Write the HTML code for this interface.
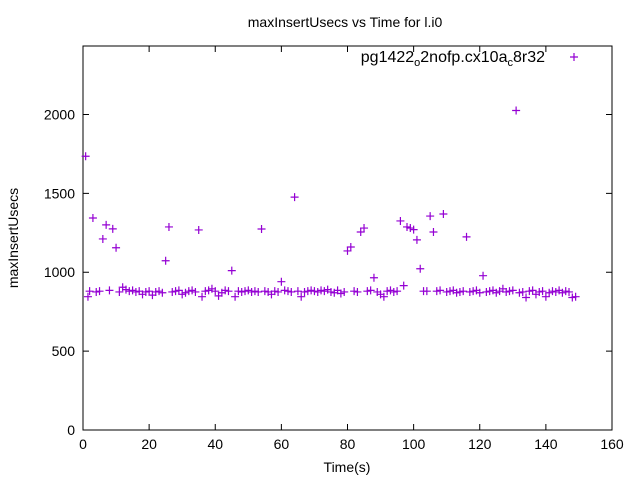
<!DOCTYPE html>
<html><head><meta charset="utf-8"><style>
body{margin:0;background:#fff;}
svg text{font-family:"Liberation Sans",sans-serif;font-size:14px;fill:#000;}
</style></head><body>
<svg id="chart" width="640" height="480" viewBox="0 0 640 480" xmlns="http://www.w3.org/2000/svg">
<text x="345" y="27" text-anchor="middle" style="font-size:14px">maxInsertUsecs vs Time for l.i0</text>
<text x="347" y="472" text-anchor="middle">Time(s)</text>
<text transform="translate(18,238) rotate(-90)" text-anchor="middle">maxInsertUsecs</text>
<g id="axes"></g>
<g id="points"></g>
<g>
<text x="545" y="62" text-anchor="end" style="font-size:16px">pg1422<tspan style="font-size:11px" dy="4">o</tspan><tspan dy="-4">2nofp.cx10a</tspan><tspan style="font-size:11px" dy="4">c</tspan><tspan dy="-4">8r32</tspan></text>
<path d="M570,57h8M574,53v8" stroke="#9400d3" stroke-width="1.2"/>
</g>
</svg>
<script>
const xTicks=[0,20,40,60,80,100,120,140,160];
const yTicks=[0,500,1000,1500,2000];
const times=[0.8,1.5,2,3,4,5,6,7,8,9,10,11,12,13,14,15,16,17,18,19,20,21,22,23,24,25,26,27,28,29,30,31,32,33,34,35,36,37,38,39,40,41,42,43,44,45,46,47,48,49,50,51,52,53,54,55,56,57,58,59,60,61,62,63,64,65,66,67,68,69,70,71,72,73,74,75,76,77,78,79,80,81,82,83,84,85,86,87,88,89,90,91,92,93,94,95,96,97,98,99,100,101,102,103,104,105,106,107,108,109,110,111,112,113,114,115,116,117,118,119,120,121,122,123,124,125,126,127,128,129,130,131,132,133,134,135,136,137,138,139,140,141,142,143,144,145,146,147,148,149];
const values=[1735,845,880,1344,875,880,1211,1300,885,1275,1155,875,905,890,880,885,875,880,860,875,880,855,875,880,870,1073,1287,875,880,885,860,870,880,885,875,1268,845,880,885,895,880,850,870,885,880,1010,845,880,875,880,885,875,880,875,1274,880,875,860,880,875,940,885,880,875,1476,880,845,875,880,885,880,875,885,880,890,875,870,885,865,875,1135,1160,880,875,1255,1280,880,885,965,875,860,845,880,885,875,880,1325,915,1287,1280,1270,1205,1022,880,880,1356,1255,880,885,1369,875,880,885,870,875,880,1224,875,880,885,870,978,875,880,885,870,880,895,875,880,885,2025,870,875,840,880,885,860,875,880,845,870,880,875,885,870,880,875,840,845];
const L=83,R=612,T=46,B=430,XMAX=160,YMAX=2434;
const sx=v=>L+(R-L)*v/XMAX, sy=v=>B-(B-T)*v/YMAX;
const NS='http://www.w3.org/2000/svg';
const ax=document.getElementById('axes');
function mk(tag,attrs,parent){const e=document.createElementNS(NS,tag);for(const k in attrs)e.setAttribute(k,attrs[k]);parent.appendChild(e);return e;}
const border=mk('rect',{x:L,y:T,width:R-L,height:B-T,fill:'none',stroke:'#000','stroke-width':1},ax);


xTicks.forEach(v=>{const x=sx(v);
 const t=mk('path',{d:`M${x},${B}v-6M${x},${T}v6`,stroke:'#000'},ax);
 
 
 const l=mk('text',{x:x,y:B+19,'text-anchor':'middle'},ax);l.textContent=v;
 
 });
yTicks.forEach(v=>{const y=sy(v);
 const t=mk('path',{d:`M${L},${y}h6M${R},${y}h-6`,stroke:'#000'},ax);
 
 
 const l=mk('text',{x:L-8,y:y+5,'text-anchor':'end'},ax);l.textContent=v;
 
 });
const pg=document.getElementById('points');
times.forEach((t,i)=>{const x=sx(t),y=sy(values[i]);
 const p=mk('path',{d:`M${x-4},${y}h8M${x},${y-4}v8`,stroke:'#9400d3','stroke-width':1.2},pg);
 
 });
</script>
</body></html>
